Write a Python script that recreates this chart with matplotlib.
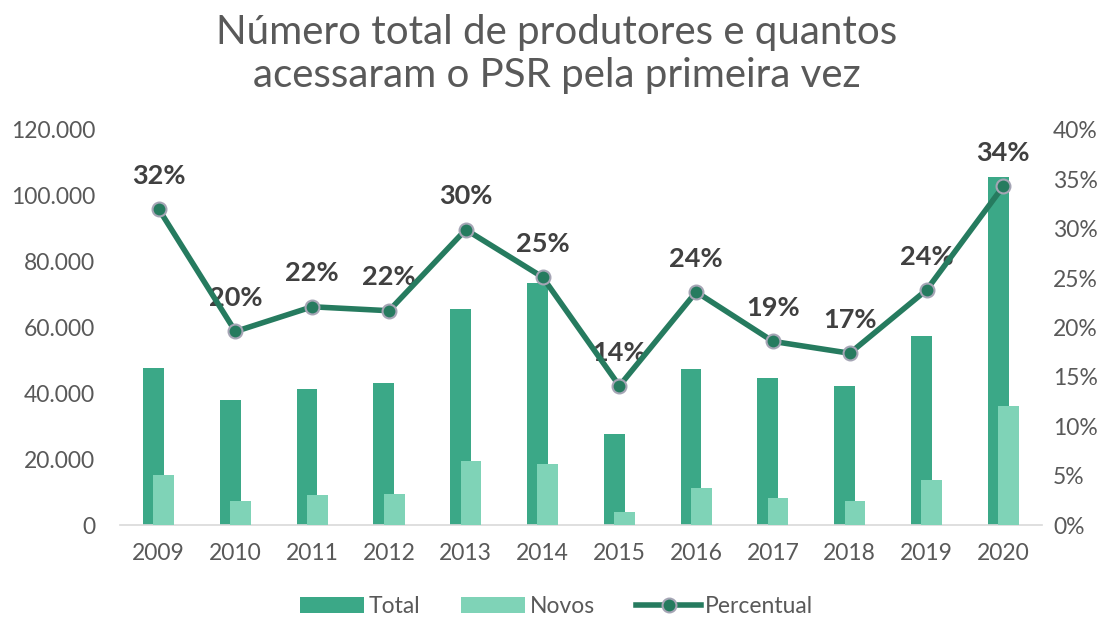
import numpy as np
import matplotlib.pyplot as plt
from matplotlib.ticker import FuncFormatter

plt.rcParams['font.family'] = ['Lato', 'DejaVu Sans']

anos = ['2009', '2010', '2011', '2012', '2013', '2014', '2015', '2016', '2017', '2018', '2019', '2020']
total = [47700, 38000, 41300, 43200, 65600, 73600, 27700, 47400, 44700, 42200, 57400, 105800]
novos = [15200, 7300, 9100, 9400, 19500, 18500, 4000, 11200, 8200, 7300, 13700, 36200]
percentual = [32.0, 19.6, 22.1, 21.7, 29.9, 25.1, 14.1, 23.6, 18.6, 17.4, 23.8, 34.3]

c_total = '#3ba887'
c_novos = '#7fd3b7'
c_linha = '#267b5f'
cinza = '#595959'

fig = plt.figure(figsize=(11.13, 6.18), dpi=100)
ax = fig.add_axes([0.108, 0.150, 0.828, 0.640])
x = np.arange(len(anos))
w = 0.27

ax.bar(x - 0.067, total, w, color=c_total, label='Total', zorder=2)
ax.bar(x + 0.067, novos, w, color=c_novos, label='Novos', zorder=3)

ax.set_ylim(0, 120000)
ax.set_xlim(-0.5, len(anos) - 0.5)
ax.set_yticks(np.arange(0, 120001, 20000))
ax.yaxis.set_major_formatter(FuncFormatter(lambda v, p: '{:,.0f}'.format(v).replace(',', '.')))
ax.set_xticks(x)
ax.set_xticklabels(anos)
for s in ['top', 'right', 'left']:
    ax.spines[s].set_visible(False)
ax.spines['bottom'].set_color('#d9d9d9')
ax.spines['bottom'].set_linewidth(1.2)
ax.tick_params(axis='both', length=0, colors=cinza, labelsize=16.5)
ax.tick_params(axis='x', pad=13)
ax.tick_params(axis='y', pad=18)

ax2 = ax.twinx()
ax2.plot(x, percentual, color=c_linha, lw=4, marker='o', markersize=10,
         markerfacecolor=c_linha, markeredgecolor='#a5a5b5', markeredgewidth=1.5,
         label='Percentual', zorder=5)
ax2.set_ylim(0, 40)
ax2.set_yticks(np.arange(0, 41, 5))
ax2.yaxis.set_major_formatter(FuncFormatter(lambda v, p: '{:.0f}%'.format(v)))
for s in ['top', 'right', 'left', 'bottom']:
    ax2.spines[s].set_visible(False)
ax2.tick_params(axis='y', length=0, colors=cinza, labelsize=16.5, pad=8)

for xi, p in zip(x, percentual):
    ax2.annotate('{:.0f}%'.format(p), (xi, p), xytext=(0, 24), textcoords='offset points',
                 ha='center', va='center', fontsize=19.5, fontweight='bold', color='#404040')

fig.suptitle('Número total de produtores e quantos\nacessaram o PSR pela primeira vez',
             y=0.978, fontsize=29, color=cinza, linespacing=1.2)

h1, l1 = ax.get_legend_handles_labels()
h2, l2 = ax2.get_legend_handles_labels()
fig.legend(h1 + h2, l1 + l2, loc='center', bbox_to_anchor=(0.5, 0.018), ncol=3,
           frameon=False, fontsize=16.5, labelcolor=cinza, handlelength=2.8,
           handletextpad=0.2, columnspacing=1.8)

fig.savefig('out.png', dpi=100)
